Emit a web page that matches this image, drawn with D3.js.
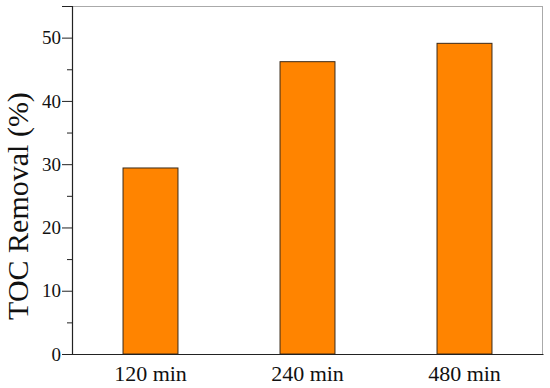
<!DOCTYPE html>
<html>
<head>
<meta charset="utf-8">
<script src="https://cdn.jsdelivr.net/npm/d3@7"></script>
<style>
  body { margin: 0; background: #fff; }
  svg { display: block; }
</style>
</head>
<body>
<svg id="chart" width="550" height="388"></svg>
<script>
// data
var categories = ["120 min", "240 min", "480 min"];
var removal = [29.4, 46.2, 49.1];
var yTicks = [0, 10, 20, 30, 40, 50];
var yMinor = [5, 15, 25, 35, 45];

var serif = "'Liberation Serif', 'Times New Roman', serif";
var margin = { top: 6, right: 7, bottom: 34, left: 72 };
var W = 550, H = 388;
var width = W - margin.left - margin.right;
var height = H - margin.top - margin.bottom;

var svg = d3.select("#chart");
var g = svg.append("g")
  .attr("transform", "translate(" + margin.left + "," + margin.top + ")");

var x = d3.scaleBand()
  .domain(categories)
  .range([0, width])
  .paddingInner(0.65)
  .paddingOuter(0.325);

var y = d3.scaleLinear()
  .domain([0, 55])
  .range([height, 0]);

// frame (top/right in grey)
g.append("line").attr("x1", 0).attr("x2", width).attr("y1", 0.5).attr("y2", 0.5)
  .attr("stroke", "#aaa").attr("stroke-width", 1);
g.append("line").attr("x1", width - 0.5).attr("x2", width - 0.5).attr("y1", 0).attr("y2", height)
  .attr("stroke", "#aaa").attr("stroke-width", 1);

// bars
g.selectAll("rect.bar")
  .data(removal)
  .enter()
  .append("rect")
  .attr("class", "bar")
  .attr("x", function (d, i) { return x(categories[i]); })
  .attr("y", function (d) { return y(d); })
  .attr("width", x.bandwidth())
  .attr("height", function (d) { return height - y(d); })
  .attr("fill", "#ff8400")
  .attr("stroke", "#3a2a1a")
  .attr("stroke-width", 1);

// y axis
var yAxis = g.append("g")
  .call(d3.axisLeft(y).tickValues(yTicks).tickSize(10).tickPadding(1).tickFormat(d3.format("d")));
yAxis.select(".domain").attr("stroke", "#222").attr("stroke-width", 1.2);
yAxis.selectAll(".tick line").attr("stroke", "#222");
yAxis.selectAll(".tick text")
  .style("font-family", serif).style("font-size", "19px").style("fill", "#111");

var yMinorAxis = g.append("g")
  .call(d3.axisLeft(y).tickValues(yMinor).tickSize(5).tickFormat(""));
yMinorAxis.select(".domain").remove();
yMinorAxis.selectAll(".tick line").attr("stroke", "#222");

// x axis
var xAxis = g.append("g")
  .attr("transform", "translate(0," + height + ")")
  .call(d3.axisBottom(x).tickSize(0).tickPadding(8).tickSizeOuter(0));
xAxis.select(".domain").attr("stroke", "#222").attr("stroke-width", 1.2);
xAxis.selectAll(".tick text")
  .style("font-family", serif).style("font-size", "22px").style("fill", "#111")
  .attr("dy", "0.85em");

// y axis title
svg.append("text")
  .attr("transform", "translate(28," + 206 + ") rotate(-90)")
  .attr("text-anchor", "middle")
  .style("font-family", serif)
  .style("font-size", "30px")
  .style("fill", "#111")
  .text("TOC Removal (%)");
</script>
</body>
</html>
